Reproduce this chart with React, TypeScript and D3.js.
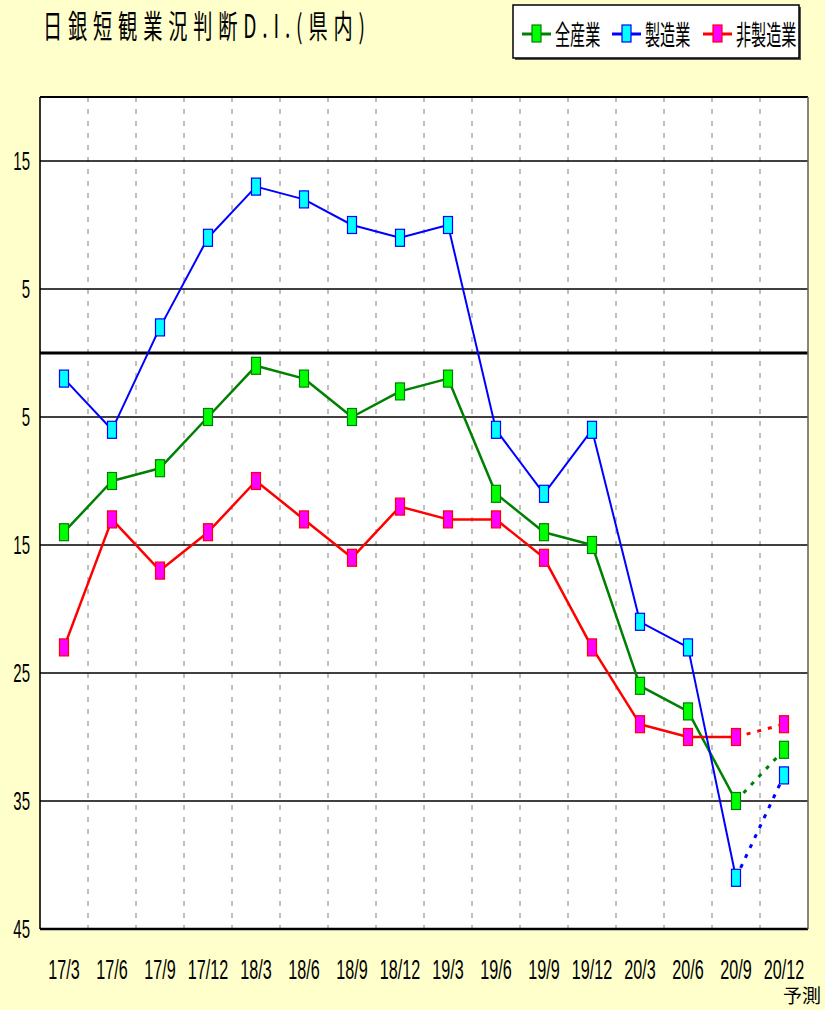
import * as React from 'react';
import * as d3 from 'd3';

const W = 825;
const H = 1010;
const margin = { top: 97, left: 40, right: 17, bottom: 81 };

const categories = ['17/3', '17/6', '17/9', '17/12', '18/3', '18/6', '18/9', '18/12', '19/3', '19/6', '19/9', '19/12', '20/3', '20/6', '20/9', '20/12'];
const allIndustry = [-14, -10, -9, -5, -1, -2, -5, -3, -2, -11, -14, -15, -26, -28, -35, -31];
const manufacturing = [-2, -6, 2, 9, 13, 12, 10, 9, 10, -6, -11, -6, -21, -23, -41, -33];
const nonManufacturing = [-23, -13, -17, -14, -10, -13, -16, -12, -13, -13, -16, -23, -29, -30, -30, -29];
const yTicks = [15, 5, -5, -15, -25, -35, -45];

const series = [
  { name: '全産業', values: allIndustry, line: '#008000', fill: '#00ff00', width: 2.5 },
  { name: '非製造業', values: nonManufacturing, line: '#ff0000', fill: '#ff00ff', width: 2.5 },
  { name: '製造業', values: manufacturing, line: '#0000ff', fill: '#00ffff', width: 2 },
];
const legendOrder = ['全産業', '製造業', '非製造業'];

const FONT = '"Liberation Sans", "Noto Sans CJK JP", sans-serif';
const JFONT = '"Noto Sans CJK JP", sans-serif';

const App: React.FC = () => {
  const x = d3.scaleBand(categories, [margin.left, W - margin.right]).padding(0);
  const y = d3.scaleLinear([-45, 20], [H - margin.bottom, margin.top]);
  const cx = (i: number) => (x(categories[i]) ?? 0) + x.bandwidth() / 2;
  const line = d3
    .line<number>()
    .x((_, i) => cx(i))
    .y((d) => y(d));
  const last = categories.length - 1;

  return (
    <svg width={W} height={H} viewBox={`0 0 ${W} ${H}`} style={{ display: 'block', position: 'absolute', left: 0, top: 0 }}>
      <rect width={W} height={H} fill="#ffffcc" />

      {/* title */}
      <g transform="translate(43,38) scale(0.6,1)">
        <text x={0} y={0} fontFamily={JFONT} fontSize={32} textLength={322 / 0.6} lengthAdjust="spacing" fill="#000">
          日銀短観業況判断D.I.(県内)
        </text>
      </g>

      {/* legend */}
      <rect x={515} y={7} width={286} height={53} fill="#555" />
      <rect x={513} y={5} width={286} height={53} fill="#fff" stroke="#000" strokeWidth={1.5} />
      {legendOrder.map((name, k) => {
        const s = series.find((d) => d.name === name)!;
        const lx = [522, 612, 703][k];
        return (
          <g key={name}>
            <line x1={lx} x2={lx + 29} y1={34} y2={34} stroke={s.line} strokeWidth={3} />
            <rect x={lx + 10} y={25} width={9} height={17} fill={s.fill} stroke={s.line} strokeWidth={1.2} />
            <g transform={`translate(${lx + 33},45) scale(0.56,1)`}>
              <text fontFamily={JFONT} fontSize={27} fill="#000">{name}</text>
            </g>
          </g>
        );
      })}

      {/* plot area */}
      <rect x={margin.left} y={margin.top} width={W - margin.left - margin.right} height={H - margin.top - margin.bottom} fill="#fff" />
      {categories.slice(1).map((c) => (
        <line key={c} x1={x(c)} x2={x(c)} y1={margin.top} y2={H - margin.bottom} stroke="#808080" strokeWidth={1} strokeDasharray="5,7" />
      ))}
      {yTicks.slice(0, -1).map((t) => (
        <line key={t} x1={margin.left} x2={W - margin.right} y1={y(t)} y2={y(t)} stroke="#000" strokeWidth={1.6} />
      ))}
      <line x1={margin.left} x2={W - margin.right} y1={y(0)} y2={y(0)} stroke="#000" strokeWidth={3.2} />
      <line x1={margin.left} x2={W - margin.right} y1={margin.top} y2={margin.top} stroke="#000" strokeWidth={2} />
      <line x1={margin.left} x2={W - margin.right} y1={H - margin.bottom} y2={H - margin.bottom} stroke="#000" strokeWidth={2.5} />
      <line x1={margin.left} x2={margin.left} y1={margin.top} y2={H - margin.bottom} stroke="#000" strokeWidth={1.6} />
      <line x1={W - margin.right} x2={W - margin.right} y1={margin.top} y2={H - margin.bottom} stroke="#666" strokeWidth={1.6} />

      {/* y tick labels */}
      {yTicks.map((t) => (
        <g key={t} transform={`translate(30,${y(t) + 9}) scale(0.6,1)`}>
          <text textAnchor="end" fontFamily={FONT} fontSize={25} fill="#000">{Math.abs(t)}</text>
        </g>
      ))}

      {/* x tick labels */}
      {categories.map((c, i) => (
        <g key={c} transform={`translate(${cx(i)},979) scale(0.6,1)`}>
          <text textAnchor="middle" fontFamily={FONT} fontSize={27} fill="#000">{c}</text>
        </g>
      ))}
      <text x={821} y={1003} textAnchor="end" fontFamily={JFONT} fontSize={19} fill="#000">予測</text>

      {/* lines */}
      {series.map((s) => (
        <g key={s.name}>
          <path d={line(s.values.slice(0, last)) ?? ''} fill="none" stroke={s.line} strokeWidth={s.width} strokeLinejoin="round" />
          <line
            x1={cx(last - 1)}
            y1={y(s.values[last - 1])}
            x2={cx(last)}
            y2={y(s.values[last])}
            stroke={s.line}
            strokeWidth={3}
            strokeDasharray="4,7"
          />
        </g>
      ))}
      {series.map((s) => (
        <g key={s.name + '-m'}>
          {s.values.map((v, i) => (
            <rect key={i} x={cx(i) - 4.5} y={y(v) - 8.5} width={9} height={17} fill={s.fill} stroke={s.line} strokeWidth={1.2} />
          ))}
        </g>
      ))}
    </svg>
  );
};

export default App;
